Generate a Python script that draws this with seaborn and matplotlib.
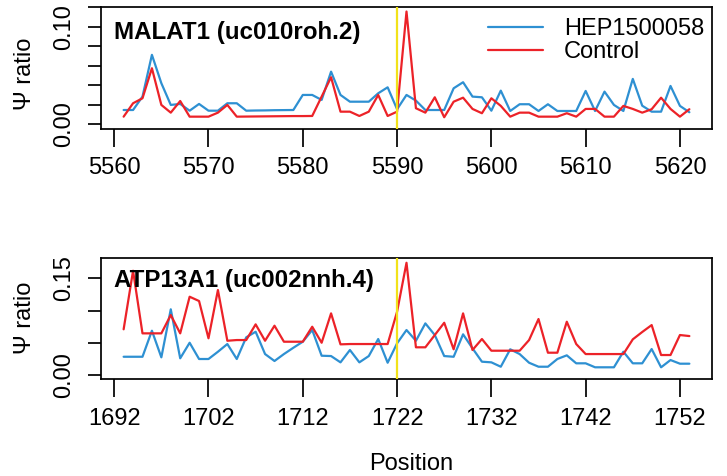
import matplotlib
matplotlib.use("Agg")
import matplotlib.pyplot as plt
import numpy as np
import pandas as pd
import seaborn as sns

# ---- data -------------------------------------------------------------
malat1_title = "MALAT1 (uc010roh.2)"
malat1_pos = list(range(5561, 5622))
malat1_hep = [
    0.0148, 0.0148, 0.0285, 0.0712, 0.0422, 0.0200, 0.0210, 0.0141, 0.0210, 0.0141,
    0.0141, 0.0217, 0.0217, 0.0141, 0.0143, 0.0144, 0.0146, 0.0147, 0.0148, 0.0302,
    0.0302, 0.0251, 0.0540, 0.0302, 0.0233, 0.0233, 0.0233, 0.0319, 0.0380, 0.0156,
    0.0302, 0.0244, 0.0148, 0.0148, 0.0148, 0.0370, 0.0432, 0.0285, 0.0278, 0.0141,
    0.0346, 0.0138, 0.0207, 0.0207, 0.0138, 0.0207, 0.0138, 0.0138, 0.0138, 0.0343,
    0.0138, 0.0336, 0.0200, 0.0138, 0.0466, 0.0192, 0.0131, 0.0131, 0.0394, 0.0190,
    0.0125,
]
malat1_ctrl = [
    0.0080, 0.0217, 0.0268, 0.0575, 0.0200, 0.0121, 0.0240, 0.0080, 0.0080, 0.0080,
    0.0121, 0.0200, 0.0080, 0.0081, 0.0082, 0.0083, 0.0084, 0.0085, 0.0086, 0.0086,
    0.0087, 0.0285, 0.0483, 0.0131, 0.0131, 0.0087, 0.0131, 0.0302, 0.0087, 0.0131,
    0.1155, 0.0166, 0.0121, 0.0278, 0.0074, 0.0233, 0.0274, 0.0159, 0.0115, 0.0268,
    0.0190, 0.0080, 0.0121, 0.0121, 0.0080, 0.0080, 0.0080, 0.0115, 0.0080, 0.0159,
    0.0159, 0.0080, 0.0080, 0.0190, 0.0159, 0.0121, 0.0156, 0.0274, 0.0159, 0.0080,
    0.0156,
]
malat1_site = 5590
malat1_xticks = [5560, 5570, 5580, 5590, 5600, 5610, 5620]
malat1_yticks = [0.00, 0.02, 0.04, 0.06, 0.08, 0.10, 0.12]
malat1_ylabels = ["0.00", "", "", "", "", "0.10", ""]

atp13a1_title = "ATP13A1 (uc002nnh.4)"
atp13a1_pos = list(range(1693, 1754))
atp13a1_hep = [
    0.0281, 0.0281, 0.0281, 0.0686, 0.0272, 0.1019, 0.0257, 0.0499, 0.0246, 0.0246,
    0.0359, 0.0479, 0.0246, 0.0583, 0.0670, 0.0323, 0.0215, 0.0323, 0.0421, 0.0515,
    0.0697, 0.0297, 0.0292, 0.0194, 0.0386, 0.0194, 0.0292, 0.0557, 0.0188, 0.0490,
    0.0697, 0.0530, 0.0800, 0.0619, 0.0292, 0.0281, 0.0630, 0.0412, 0.0204, 0.0194,
    0.0126, 0.0397, 0.0323, 0.0188, 0.0126, 0.0126, 0.0246, 0.0303, 0.0179, 0.0179,
    0.0117, 0.0117, 0.0117, 0.0359, 0.0179, 0.0179, 0.0401, 0.0117, 0.0230, 0.0173,
    0.0173,
]
atp13a1_ctrl = [
    0.0708, 0.1619, 0.0645, 0.0645, 0.0645, 0.0930, 0.0645, 0.1215, 0.1148, 0.0568,
    0.1319, 0.0530, 0.0541, 0.0541, 0.0785, 0.0530, 0.0764, 0.0515, 0.0515, 0.0515,
    0.0748, 0.0499, 0.0956, 0.0474, 0.0479, 0.0479, 0.0479, 0.0479, 0.0479, 0.0981,
    0.1743, 0.0428, 0.0428, 0.0619, 0.0810, 0.0397, 0.0956, 0.0386, 0.0557, 0.0375,
    0.0375, 0.0375, 0.0375, 0.0541, 0.0868, 0.0344, 0.0344, 0.0826, 0.0479, 0.0323,
    0.0323, 0.0323, 0.0323, 0.0323, 0.0552, 0.0666, 0.0774, 0.0308, 0.0308, 0.0619,
    0.0603,
]
atp13a1_site = 1722
atp13a1_xticks = [1692, 1702, 1712, 1722, 1732, 1742, 1752]
atp13a1_yticks = [0.00, 0.05, 0.10, 0.15]
atp13a1_ylabels = ["0.00", "", "", "0.15"]

sample_names = ["HEP1500058", "Control"]
sample_colors = {"HEP1500058": "#2E90D2", "Control": "#EC2228"}
site_color = "#F2E21A"

# ---- style ------------------------------------------------------------
sns.set_style("white")
plt.rcParams["font.family"] = ["Liberation Sans", "DejaVu Sans"]
for key in ("text.color", "axes.labelcolor", "xtick.color", "ytick.color",
            "axes.edgecolor"):
    plt.rcParams[key] = "black"
FS = 17
LW_FRAME = 1.25
LW_DATA = 1.6

fig = plt.figure(figsize=(7.27, 4.76), dpi=100)
W, H = 727, 476


def panel_axes(left, top, right, bottom):
    return fig.add_axes([left / W, 1 - bottom / H, (right - left) / W, (bottom - top) / H])


def draw_panel(ax, pos, hep, ctrl, site, xticks, yticks, ylabels, title,
               title_y, ylabel_y, show_legend):
    n = len(pos)
    df = pd.DataFrame({
        "Position": pos + pos,
        "ratio": hep + ctrl,
        "Sample": [sample_names[0]] * n + [sample_names[1]] * n,
    })
    sns.lineplot(data=df, x="Position", y="ratio", hue="Sample",
                 hue_order=sample_names, palette=sample_colors,
                 estimator=None, sort=True, linewidth=LW_DATA, ax=ax,
                 legend=show_legend)
    ax.axvline(site, color=site_color, linewidth=LW_DATA, zorder=5)

    # R-like ranges: 4% padding on x around data, y from zero to max
    xmin, xmax = min(pos), max(pos)
    xpad = 0.04 * (xmax - xmin)
    ax.set_xlim(xmin - xpad, xmax + xpad)
    ymax = max(max(hep), max(ctrl))
    ax.set_ylim(-0.04 * ymax, ymax * 1.04)

    ax.set_xticks(xticks)
    ax.set_xticklabels([str(t) for t in xticks])
    ax.set_yticks(yticks)
    ax.set_yticklabels(ylabels, rotation=90, va="center")
    ax.tick_params(axis="x", direction="out", length=13, width=LW_FRAME,
                   labelsize=FS, pad=7.5, bottom=True, color="black",
                   labelcolor="black")
    ax.tick_params(axis="y", direction="out", length=9.4, width=LW_FRAME,
                   labelsize=FS, pad=9, left=True, color="black",
                   labelcolor="black")
    for sp in ax.spines.values():
        sp.set_visible(True)
        sp.set_color("black")
        sp.set_linewidth(LW_FRAME)

    ax.set_xlabel("")
    ax.set_ylabel("\u03a8 ratio", fontsize=FS, va="center", color="black")
    ax.yaxis.set_label_coords(-(101 - 25) / 611, ylabel_y)

    ax.text(0.0213, title_y, title, transform=ax.transAxes, fontsize=FS + 0.4,
            fontweight="bold", va="baseline", ha="left", color="black", zorder=6)


ax1 = panel_axes(101, 7, 712, 129)
ax2 = panel_axes(101, 258.3, 712, 379.3)

draw_panel(ax1, malat1_pos, malat1_hep, malat1_ctrl, malat1_site,
           malat1_xticks, malat1_yticks, malat1_ylabels, malat1_title,
           0.735, 0.455, True)
draw_panel(ax2, atp13a1_pos, atp13a1_hep, atp13a1_ctrl, atp13a1_site,
           atp13a1_xticks, atp13a1_yticks, atp13a1_ylabels, atp13a1_title,
           0.765, 0.51, False)

handles, labels = ax1.get_legend_handles_labels()
leg = ax1.legend(handles, labels, loc="upper right", bbox_to_anchor=(0.995, 0.95),
                 frameon=False, fontsize=FS, handlelength=2.3, handletextpad=0.9,
                 labelspacing=0.05, borderaxespad=0, borderpad=0.2)
for t in leg.get_texts():
    t.set_color("black")

ax2.set_xlabel("Position", fontsize=FS, va="baseline", color="black")
ax2.xaxis.set_label_coords(0.507, -(470 - 379.3) / 121)

fig.savefig("out.png", dpi=100, facecolor="white")
